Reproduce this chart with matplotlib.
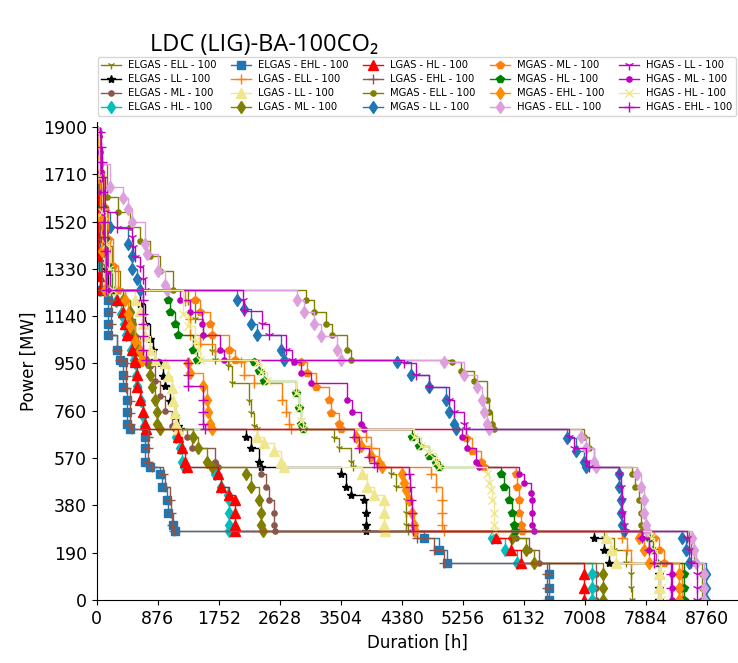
import matplotlib
matplotlib.use("Agg")
import matplotlib.pyplot as plt

# ---- data (hours, MW) for each load duration curve ----
elgas_ell_h = [14, 43, 86, 143, 215, 330, 1305, 1405, 1520, 1649, 1692, 1879, 1950, 2194, 2223, 2266, 2295, 3413, 3485, 3657, 3686,
               4230, 4302, 4445, 4445, 4445, 4474, 7285, 7428, 7600, 7672, 7672, 7686]
elgas_ell_mw = [1880, 1700, 1550, 1420, 1320, 1245, 1200, 1130, 1060, 1000, 965, 940, 870, 800, 750, 700, 685, 650, 610, 555, 535,
                505, 455, 400, 350, 300, 277, 250, 200, 150, 105, 50, 0]

elgas_ll_h = [0, 29, 57, 100, 129, 158, 617, 688, 760, 803, 832, 903, 946, 975, 1047, 1119, 1162, 1190, 2151, 2223, 2337, 2366,
              3513, 3585, 3657, 3843, 3872, 3872, 3872, 7141, 7285, 7356, 8073, 8073, 8073]
elgas_ll_mw = [1880, 1750, 1600, 1450, 1330, 1245, 1190, 1110, 1050, 1005, 965, 950, 900, 860, 800, 740, 700, 685, 655, 610, 555, 535,
               505, 455, 420, 400, 350, 300, 277, 250, 200, 150, 105, 50, 0]

elgas_ml_h = [0, 29, 57, 86, 115, 402, 473, 545, 617, 660, 760, 832, 903, 975, 1076, 1119, 1291, 1362, 1692, 1735,
              2366, 2438, 2481, 2553, 2553, 2567, 6023, 6209, 6353, 7170, 7170, 7170]
elgas_ml_mw = [1880, 1700, 1550, 1400, 1245, 1200, 1130, 1060, 1000, 965, 940, 880, 820, 760, 700, 685, 655, 610, 555, 535,
               505, 455, 400, 350, 300, 277, 250, 200, 150, 105, 50, 0]

elgas_hl_h = [0, 14, 14, 29, 43, 272, 344, 387, 416, 488, 531, 545, 560, 574, 631, 660, 674, 688, 1133, 1190, 1219, 1248,
              1692, 1792, 1879, 1893, 1893, 1893, 1907, 5679, 5865, 6037, 7113, 7113, 7113]
elgas_hl_mw = [1880, 1700, 1500, 1350, 1245, 1200, 1150, 1110, 1065, 1005, 965, 950, 900, 860, 800, 740, 700, 685, 655, 610, 555, 535,
               505, 455, 420, 400, 350, 300, 277, 250, 200, 150, 105, 50, 0]

elgas_ehl_h = [0, 14, 29, 43, 57, 158, 158, 158, 158, 287, 330, 373, 373, 373, 430, 430, 430, 473, 688, 688, 688, 760,
               903, 932, 1004, 1018, 1090, 1119, 4704, 4919, 5033, 6496, 6496, 6496]
elgas_ehl_mw = [1880, 1700, 1550, 1400, 1245, 1205, 1155, 1110, 1065, 1005, 965, 955, 905, 855, 805, 755, 705, 685, 655, 610, 555, 535,
                505, 455, 400, 350, 300, 277, 250, 200, 150, 105, 50, 0]

lgas_ell_h = [0, 29, 72, 129, 186, 258, 1262, 1334, 1334, 1477, 1692, 1907, 2079, 2122, 2266, 2667, 2725, 2768, 2796, 3872, 3944, 4058, 4101,
              4804, 4876, 4962, 4962, 4962, 4990, 7543, 7615, 7672, 8403, 8403, 8403]
lgas_ell_mw = [1880, 1720, 1580, 1450, 1350, 1245, 1200, 1130, 1065, 1030, 1000, 965, 955, 905, 870, 805, 755, 705, 685, 655, 610, 555, 535,
               505, 455, 400, 350, 300, 277, 250, 200, 150, 105, 50, 0]

lgas_ll_h = [0, 29, 72, 115, 186, 545, 617, 660, 688, 760, 832, 975, 1018, 1076, 1090, 1119, 1133, 1162, 2309, 2409, 2553, 2653, 2696,
             3814, 3886, 3987, 4130, 4130, 4130, 4144, 7313, 7385, 7457, 8073, 8073, 8073]
lgas_ll_mw = [1880, 1700, 1550, 1400, 1245, 1205, 1160, 1110, 1060, 1005, 965, 950, 900, 850, 800, 750, 705, 685, 655, 630, 600, 555, 535,
              505, 455, 420, 400, 350, 300, 277, 250, 200, 150, 105, 50, 0]

lgas_ml_h = [0, 29, 57, 100, 143, 373, 473, 502, 516, 588, 645, 717, 760, 789, 832, 860, 860, 903, 1377, 1448, 1577, 1649,
             2151, 2223, 2337, 2366, 2366, 2395, 5965, 6166, 6281, 7270, 7270, 7270]
lgas_ml_mw = [1880, 1700, 1550, 1400, 1245, 1205, 1155, 1110, 1065, 1005, 965, 955, 905, 855, 805, 755, 705, 685, 655, 610, 555, 535,
              505, 455, 400, 350, 300, 277, 250, 200, 150, 105, 50, 0]

lgas_hl_h = [0, 0, 14, 14, 14, 29, 43, 287, 373, 402, 430, 502, 545, 545, 574, 574, 617, 660, 688, 703, 1162, 1219, 1262, 1291,
             1735, 1792, 1907, 1979, 1979, 1979, 1993, 5736, 5951, 6095, 6998, 6998, 6998]
lgas_hl_mw = [1880, 1620, 1540, 1460, 1380, 1300, 1245, 1205, 1155, 1110, 1065, 1005, 965, 955, 905, 855, 805, 755, 705, 685, 655, 610, 555, 535,
              505, 455, 420, 400, 350, 300, 277, 250, 200, 150, 105, 50, 0]

lgas_ehl_h = [0, 14, 43, 72, 201, 201, 201, 201, 287, 330, 416, 416, 416, 473, 473, 473, 502, 731, 731, 731, 789,
              946, 975, 1047, 1061, 1076, 1104, 4603, 4847, 4990, 6467, 6467, 6467]
lgas_ehl_mw = [1880, 1650, 1450, 1245, 1205, 1155, 1110, 1065, 1005, 965, 950, 900, 850, 800, 750, 705, 685, 655, 610, 555, 535,
               505, 455, 400, 350, 300, 277, 250, 200, 150, 105, 50, 0]

mgas_ell_h = [0, 43, 143, 301, 473, 617, 760, 903, 1090, 3011, 3126, 3298, 3384, 3599, 3657, 5105, 5234, 5421, 5607, 5636, 5679, 5707,
              6998, 7070, 7141, 7170, 7686, 7729, 7787, 7815, 7815, 7830, 8503, 8532, 8575, 8690, 8690, 8690]
mgas_ell_mw = [1880, 1750, 1620, 1560, 1500, 1440, 1380, 1320, 1245, 1205, 1155, 1110, 1065, 1005, 965, 955, 920, 880, 805, 755, 705, 685,
               655, 610, 555, 535, 505, 455, 400, 350, 300, 277, 250, 200, 150, 105, 50, 0]

mgas_ll_h = [0, 29, 86, 186, 445, 502, 502, 574, 617, 2022, 2122, 2223, 2309, 2653, 2696, 4316, 4517, 4775, 5019, 5062, 5134, 5162,
             6754, 6883, 6998, 7027, 7500, 7500, 7529, 7529, 7543, 7572, 8403, 8460, 8503, 8747, 8747, 8747]
mgas_ll_mw = [1880, 1700, 1560, 1500, 1430, 1380, 1330, 1290, 1245, 1205, 1170, 1110, 1065, 1005, 965, 955, 905, 855, 805, 755, 705, 685,
              650, 600, 555, 535, 505, 455, 400, 350, 300, 277, 250, 200, 150, 105, 50, 0]

mgas_ml_h = [0, 43, 100, 158, 229, 301, 1405, 1477, 1620, 1649, 1907, 1979, 2940, 3026, 3155, 3341, 3370, 3485, 3513,
             5306, 5392, 5521, 5564, 6023, 6037, 6066, 6066, 6095, 6109, 8002, 8073, 8145, 8403, 8403, 8403]
mgas_ml_mw = [1880, 1720, 1580, 1450, 1340, 1245, 1205, 1155, 1110, 1065, 1005, 965, 955, 910, 855, 805, 750, 705, 685,
              650, 600, 555, 535, 505, 455, 400, 350, 300, 277, 250, 200, 150, 105, 50, 0]

mgas_hl_h = [0, 29, 72, 115, 158, 215, 1018, 1047, 1119, 1162, 1377, 1434, 2266, 2337, 2409, 2868, 2911, 2940, 2968,
             4531, 4632, 4775, 4876, 4919, 5808, 5851, 5922, 5965, 5994, 6008, 7930, 7987, 8045, 8432, 8432, 8432]
mgas_hl_mw = [1880, 1720, 1580, 1450, 1340, 1245, 1205, 1155, 1110, 1065, 1005, 965, 955, 920, 880, 830, 770, 705, 685,
              655, 620, 580, 550, 535, 505, 455, 400, 350, 300, 277, 250, 200, 150, 105, 50, 0]

mgas_ehl_h = [0, 14, 43, 72, 115, 402, 445, 473, 545, 617, 645, 1305, 1334, 1520, 1577, 1592, 1620, 1649,
              3728, 3800, 3944, 4058, 4101, 4388, 4417, 4445, 4488, 4531, 4560, 4574, 7787, 7858, 7930, 8360, 8360, 8360]
mgas_ehl_mw = [1880, 1700, 1540, 1400, 1245, 1205, 1150, 1100, 1040, 1000, 965, 950, 910, 860, 805, 755, 705, 685,
               655, 620, 580, 550, 535, 505, 470, 440, 400, 350, 300, 277, 250, 200, 150, 105, 50, 0]

hgas_ell_h = [0, 43, 186, 373, 445, 502, 688, 717, 875, 975, 1004, 2882, 2983, 3126, 3227, 3456, 3513,
              4990, 5277, 5464, 5535, 5564, 5607, 5636, 6955, 7027, 7141, 7170, 7758, 7815, 7858, 7858, 7887, 7901,
              8546, 8575, 8604, 8719, 8719, 8719]
hgas_ell_mw = [1880, 1750, 1660, 1615, 1570, 1520, 1430, 1390, 1320, 1265, 1245, 1205, 1155, 1110, 1060, 1005, 965,
               955, 905, 855, 805, 755, 705, 685, 655, 610, 555, 535, 505, 455, 400, 350, 300, 277,
               250, 200, 150, 105, 50, 0]

hgas_ll_h = [0, 43, 115, 287, 502, 516, 545, 617, 660, 688, 2094, 2122, 2380, 2481, 2725, 2811,
             4417, 4589, 4775, 5062, 5134, 5277, 5306, 6783, 6854, 7027, 7070, 7500, 7529, 7543, 7543, 7572, 7586,
             8475, 8503, 8532, 8618, 8618, 8618]
hgas_ll_mw = [1880, 1700, 1560, 1494, 1458, 1418, 1378, 1338, 1290, 1245, 1205, 1160, 1110, 1065, 1005, 965,
              950, 905, 855, 805, 755, 705, 685, 655, 610, 555, 535, 505, 455, 400, 350, 300, 277,
              250, 200, 150, 105, 50, 0]

hgas_ml_h = [0, 43, 57, 72, 86, 115, 143, 158, 186, 1190, 1334, 1506, 1520, 1764, 1835, 2839, 2940, 3083, 3599, 3671, 3800, 3843,
             5248, 5320, 5449, 5492, 6066, 6138, 6238, 6252, 6252, 6252, 6281, 7830, 7930, 8030, 8259, 8259, 8259]
hgas_ml_mw = [1880, 1800, 1720, 1640, 1560, 1480, 1400, 1320, 1245, 1205, 1155, 1110, 1065, 1005, 965, 955, 910, 870, 805, 755, 705, 685,
              655, 610, 555, 535, 505, 470, 430, 400, 350, 300, 277, 250, 200, 150, 105, 50, 0]

hgas_hl_h = [0, 29, 72, 129, 172, 229, 1233, 1305, 1405, 1448, 1477, 2295, 2366, 2452, 2868, 2911, 2940, 2968,
             4560, 4661, 4775, 4876, 4919, 5607, 5636, 5664, 5679, 5707, 5707, 5722, 7959, 8002, 8045, 8102, 8102, 8102]
hgas_hl_mw = [1880, 1700, 1560, 1430, 1330, 1245, 1150, 1100, 1040, 1005, 965, 950, 915, 880, 830, 770, 720, 685,
              655, 620, 590, 555, 535, 505, 470, 440, 400, 350, 300, 277, 250, 200, 150, 105, 50, 0]

hgas_ehl_h = [43, 57, 72, 72, 86, 86, 100, 100, 115, 129, 129, 660, 660, 660, 660, 660, 703, 1305, 1305, 1305, 1520, 1520, 1520, 1549,
              3700, 3771, 3915, 3987, 4029, 4488, 4503, 4517, 4531, 4531, 4546, 7830, 7930, 8002, 8245, 8245, 8245]
hgas_ehl_mw = [1880, 1820, 1760, 1700, 1640, 1580, 1520, 1460, 1400, 1320, 1245, 1205, 1150, 1110, 1060, 1005, 965, 950, 905, 860, 805, 755, 705, 685,
               655, 610, 575, 550, 535, 505, 455, 400, 350, 300, 277, 250, 200, 150, 105, 50, 0]

x_ticks = [0, 876, 1752, 2628, 3504, 4380, 5256, 6132, 7008, 7884, 8760]
y_ticks = [0, 190, 380, 570, 760, 950, 1140, 1330, 1520, 1710, 1900]

# label, hours, MW, colour, marker, marker size
series = [
    ("ELGAS - ELL - 100", elgas_ell_h, elgas_ell_mw, "olive", "1", 6),
    ("ELGAS - LL - 100", elgas_ll_h, elgas_ll_mw, "black", "*", 6),
    ("ELGAS - ML - 100", elgas_ml_h, elgas_ml_mw, "tab:brown", ".", 7.5),
    ("ELGAS - HL - 100", elgas_hl_h, elgas_hl_mw, "c", "d", 6.5),
    ("ELGAS - EHL - 100", elgas_ehl_h, elgas_ehl_mw, "tab:blue", "s", 5.5),
    ("LGAS - ELL - 100", lgas_ell_h, lgas_ell_mw, "tab:orange", "+", 6.5),
    ("LGAS - LL - 100", lgas_ll_h, lgas_ll_mw, "khaki", "^", 6.5),
    ("LGAS - ML - 100", lgas_ml_h, lgas_ml_mw, "olive", "d", 6.5),
    ("LGAS - HL - 100", lgas_hl_h, lgas_hl_mw, "red", "^", 6.5),
    ("LGAS - EHL - 100", lgas_ehl_h, lgas_ehl_mw, "tab:brown", "+", 6.5),
    ("MGAS - ELL - 100", mgas_ell_h, mgas_ell_mw, "olive", ".", 7.5),
    ("MGAS - LL - 100", mgas_ll_h, mgas_ll_mw, "tab:blue", "d", 6.5),
    ("MGAS - ML - 100", mgas_ml_h, mgas_ml_mw, "tab:orange", "p", 6),
    ("MGAS - HL - 100", mgas_hl_h, mgas_hl_mw, "green", "p", 6),
    ("MGAS - EHL - 100", mgas_ehl_h, mgas_ehl_mw, "darkorange", "d", 6.5),
    ("HGAS - ELL - 100", hgas_ell_h, hgas_ell_mw, "plum", "d", 6.5),
    ("HGAS - LL - 100", hgas_ll_h, hgas_ll_mw, "m", "1", 6.5),
    ("HGAS - ML - 100", hgas_ml_h, hgas_ml_mw, "m", ".", 7.5),
    ("HGAS - HL - 100", hgas_hl_h, hgas_hl_mw, "khaki", "x", 5.5),
    ("HGAS - EHL - 100", hgas_ehl_h, hgas_ehl_mw, "m", "+", 6.5),
]

fig = plt.figure(figsize=(7.38, 6.63), dpi=100)
ax = fig.add_axes([0.131, 0.095, 0.868, 0.721])

for label, h, mw, col, mk, ms in series:
    ax.plot(h, mw, drawstyle="steps-post", color=col, marker=mk, markersize=ms,
            linewidth=1.0, label=label)

ax.set_xlim(0, 9198)
ax.set_ylim(0, 1920)
ax.set_xticks(x_ticks)
ax.set_yticks(y_ticks)
ax.tick_params(labelsize=12.5)
ax.spines["top"].set_visible(False)
ax.spines["right"].set_visible(False)
ax.set_xlabel("Duration [h]", fontsize=12)
ax.set_ylabel("Power [MW]", fontsize=12)

handles, labels = ax.get_legend_handles_labels()
fig.legend(handles, labels, loc="upper left", bbox_to_anchor=(0.131, 0.916),
           ncol=5, fontsize=7.2, frameon=True, columnspacing=1.45, handlelength=2.0,
           handletextpad=0.7, labelspacing=0.4, borderpad=0.35, borderaxespad=0.1)

fig.text(0.203, 0.932, "LDC (LIG)-BA-100CO\u2082", fontsize=17,
         family=["Open Sans", "DejaVu Sans"], va="center", ha="left")

fig.savefig("out.png", dpi=100)
